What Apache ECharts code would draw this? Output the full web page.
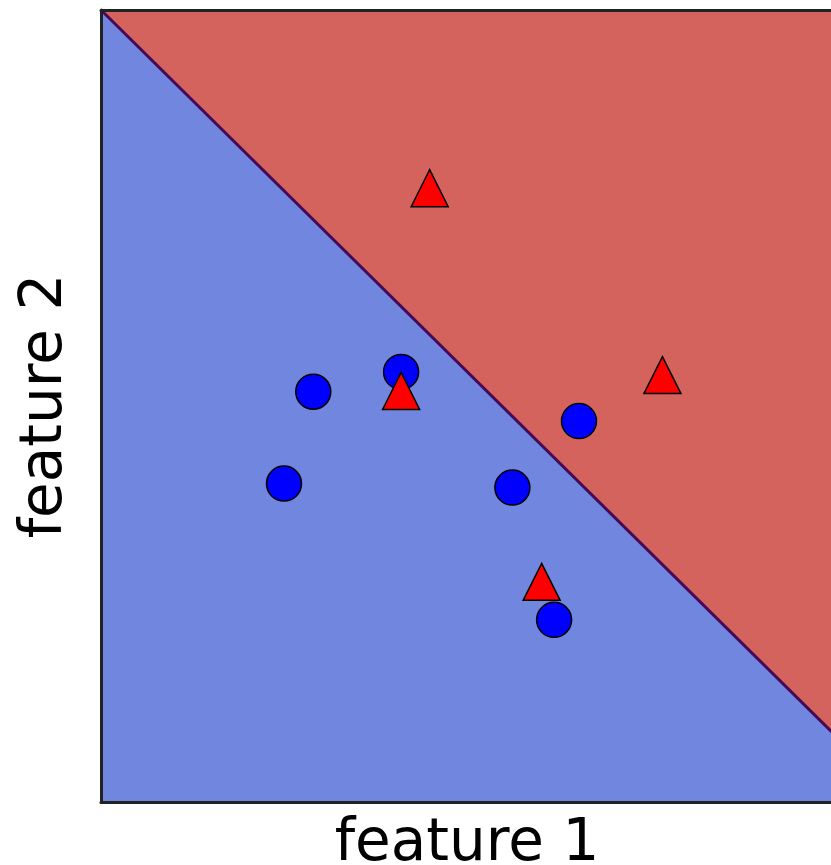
<!DOCTYPE html>
<html>
<head>
<meta charset="utf-8">
<script src="https://cdn.jsdelivr.net/npm/echarts@6/dist/echarts.min.js"></script>
<style>html,body{margin:0;padding:0;background:#fff;}#chart{width:831px;height:865px;}</style>
</head>
<body>
<div id="chart"></div>
<script>
// Class 0 (blue circles)
const class0X = [29.0, 25.0, 41.0, 56.2, 65.3, 61.9];
const class0Y = [51.8, 40.2, 54.3, 39.7, 48.1, 23.0];
// Class 1 (red triangles)
const class1X = [44.9, 76.7, 41.0, 60.2];
const class1Y = [77.5, 53.9, 51.9, 27.8];
// Decision boundary endpoints
const boundaryX = [0, 100];
const boundaryY = [100, 8.7];
const xName = 'feature 1';
const yName = 'feature 2';

const pts0 = class0X.map((x, i) => [x, class0Y[i]]);
const pts1 = class1X.map((x, i) => [x, class1Y[i]]);
const boundary = boundaryX.map((x, i) => [x, boundaryY[i]]);

const chart = echarts.init(document.getElementById('chart'), null, {renderer: 'canvas'});
const font = 'DejaVu Sans';
const hiddenAxis = {
  axisTick: {show: false}, axisLabel: {show: false}, splitLine: {show: false}
};
chart.setOption({
  animation: false,
  grid: {left: 101, top: 10, width: 732, height: 792, show: true, backgroundColor: '#7186de', borderWidth: 0,
         containLabel: false, outerBoundsMode: 'none'},
  xAxis: [
    Object.assign({type: 'value', min: 0, max: 100, position: 'bottom', z: 10,
      axisLine: {show: true, onZero: false, lineStyle: {color: '#222', width: 3}},
      name: xName, nameLocation: 'middle', nameGap: 14,
      nameTextStyle: {fontFamily: font, fontSize: 58, color: '#000', verticalAlign: 'top'}}, hiddenAxis),
    Object.assign({type: 'value', min: 0, max: 100, position: 'top', z: 10,
      axisLine: {show: true, onZero: false, lineStyle: {color: '#222', width: 3}}}, hiddenAxis)
  ],
  yAxis: [
    Object.assign({type: 'value', min: 0, max: 100, position: 'left', z: 10,
      axisLine: {show: true, onZero: false, lineStyle: {color: '#222', width: 3}},
      name: yName, nameLocation: 'middle', nameGap: 26,
      nameTextStyle: {fontFamily: font, fontSize: 58, color: '#000'}}, hiddenAxis),
    Object.assign({type: 'value', min: 0, max: 100, position: 'right', z: 10,
      axisLine: {show: true, onZero: false, lineStyle: {color: '#222', width: 3}}}, hiddenAxis)
  ],
  series: [
    {
      type: 'line', data: boundary, symbol: 'none', z: 1,
      lineStyle: {color: '#450a57', width: 3},
      areaStyle: {color: '#d4635e', opacity: 1, origin: 'end'}
    },
    {
      type: 'scatter', data: pts0, symbol: 'circle', symbolSize: 35, z: 3,
      itemStyle: {color: '#0000ff', opacity: 1, borderColor: '#000', borderWidth: 1.5}
    },
    {
      type: 'scatter', data: pts1, symbol: 'triangle', symbolSize: 37, z: 4,
      itemStyle: {color: '#ff0000', opacity: 1, borderColor: '#000', borderWidth: 1.5}
    }
  ]
});
</script>
</body>
</html>
